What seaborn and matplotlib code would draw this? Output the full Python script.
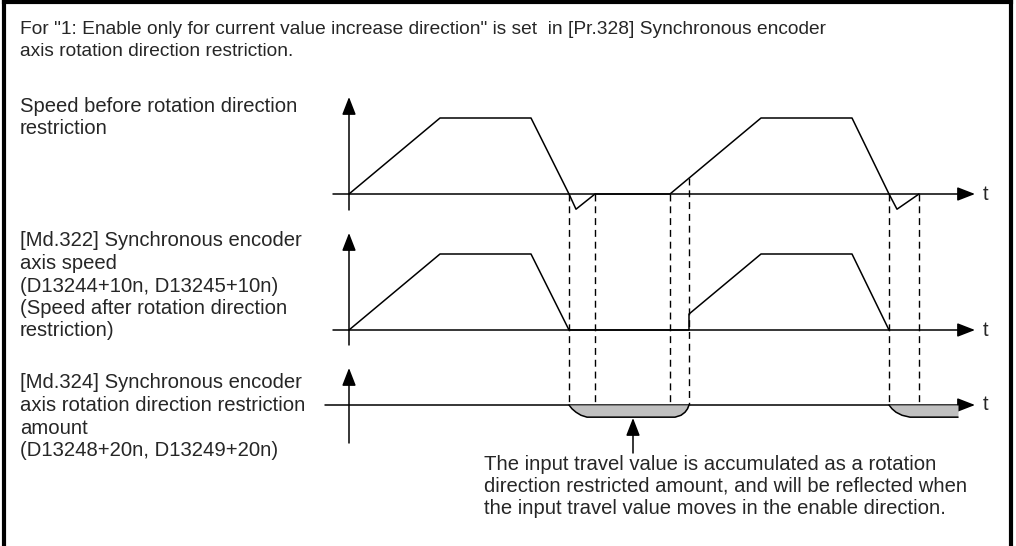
import matplotlib
matplotlib.use("Agg")
import matplotlib.pyplot as plt
import seaborn as sns
import pandas as pd

sns.set_theme(style="white")
plt.rcParams['font.family'] = ['Liberation Sans', 'DejaVu Sans']

# ---------------- data ----------------
# speed before rotation direction restriction (time units, speed %)
t_before = [0, 91, 182, 220, 227, 246, 321, 412, 503, 540, 548, 570]
v_before = [0, 100, 100, 0, -20, 0, 0, 100, 100, 0, -20, 0]
# speed after rotation direction restriction
t_after = [0, 91, 182, 220, 340, 340, 412, 503, 540]
v_after = [0, 100, 100, 0, 0, 21, 100, 100, 0]
# rotation direction restriction amount
t_amount_1 = [220, 223, 227, 232, 238, 326, 332, 336, 338.5, 340]
v_amount_1 = [0, -5, -9.5, -13.5, -16, -16, -13.5, -9.5, -5, 0]
t_amount_2 = [540, 543, 547, 553, 561, 609]
v_amount_2 = [0, -5, -9.5, -13.5, -16, -16]
# event times (dashed guides)
t_events = [220, 246, 321, 340, 540, 570]

title_lines = ['For "1: Enable only for current value increase direction" is set  in [Pr.328] Synchronous encoder',
               'axis rotation direction restriction.']
row1_label = ['Speed before rotation direction', 'restriction']
row2_label = ['[Md.322] Synchronous encoder', 'axis speed', '(D13244+10n, D13245+10n)',
              '(Speed after rotation direction', 'restriction)']
row3_label = ['[Md.324] Synchronous encoder', 'axis rotation direction restriction', 'amount',
              '(D13248+20n, D13249+20n)']
note_lines = ['The input travel value is accumulated as a rotation',
              'direction restricted amount, and will be reflected when',
              'the input travel value moves in the enable direction.']

# ---------------- layout (pixels) ----------------
W, H = 1016, 546
X0 = 349                      # time origin
BASES = [194, 330, 405]       # baselines of the three rows
K = 0.76                      # px per speed unit
FS_TITLE = 13.8
FS = 14.6
LW = 1.1

fig = plt.figure(figsize=(W / 100, H / 100), dpi=100)
canvas = fig.add_axes([0, 0, 1, 1])
canvas.set_xlim(0, W)
canvas.set_ylim(H, 0)
canvas.axis('off')


def row_axes(base):
    ax = fig.add_axes([0, 0, 1, 1], facecolor='none')
    ax.set_xlim(-X0, W - X0)
    ax.set_ylim((base - H) / K, base / K)
    ax.axis('off')
    return ax


ax1, ax2, ax3 = [row_axes(b) for b in BASES]

df1 = pd.DataFrame({'t': t_before, 'v': v_before})
df2 = pd.DataFrame({'t': t_after, 'v': v_after})
sns.lineplot(data=df1, x='t', y='v', ax=ax1, sort=False, estimator=None, color='black', lw=LW)
sns.lineplot(data=df2, x='t', y='v', ax=ax2, sort=False, estimator=None, color='black', lw=LW)
for tt, vv in [(t_amount_1, v_amount_1), (t_amount_2, v_amount_2)]:
    ax3.fill_between(tt, vv, 0, color='#c0c0c0', lw=0, zorder=1)
    sns.lineplot(x=tt, y=vv, ax=ax3, sort=False, estimator=None, color='black', lw=LW, zorder=3)
for ax in (ax1, ax2, ax3):
    ax.set_xlim(-X0, W - X0)

# frame
frame_kw = dict(color='black', lw=3.0, solid_capstyle='projecting')
canvas.plot([4, 4], [H, 2], **frame_kw)
canvas.plot([4, 1011], [2, 2], **frame_kw)
canvas.plot([1011, 1011], [2, H], **frame_kw)

arrow_kw = dict(arrowstyle='-|>,head_length=0.9,head_width=0.35', color='black', lw=LW,
                shrinkA=0, shrinkB=0, mutation_scale=12)

# axes
v_ext = [(97, 210), (233, 345), (368, 443)]
h_start = [333, 333, 325]
h_end = 975
for b, (top, bot), hs in zip(BASES, v_ext, h_start):
    canvas.annotate('', xy=(X0, top), xytext=(X0, bot), arrowprops=arrow_kw)
    canvas.annotate('', xy=(h_end, b), xytext=(hs, b), arrowprops=arrow_kw)
    canvas.text(h_end + 8, b, 't', fontsize=FS, va='center', ha='left')

# dashed guides
dash_top = [194, 194, 194, 178, 194, 194]
dash_bot = [405, 417, 417, 405, 405, 417]
for te, y0, y1 in zip(t_events, dash_top, dash_bot):
    canvas.plot([X0 + te, X0 + te], [y0, y1], color='black', lw=1.0, ls=(0, (5, 3.5)), zorder=2)

# annotation arrow
canvas.annotate('', xy=(633, 418), xytext=(633, 453), arrowprops=arrow_kw)

# texts
PITCH = 22.5


def block(lines, x, y0, fs=FS):
    for i, s in enumerate(lines):
        canvas.text(x, y0 + i * PITCH, s, fontsize=fs, va='center', ha='left')


block(title_lines, 20, 29, FS_TITLE)
block(row1_label, 20, 106)
block(row2_label, 20, 241)
block(row3_label, 20, 383)
block(note_lines, 484, 464)

fig.savefig('out.png', dpi=100)
